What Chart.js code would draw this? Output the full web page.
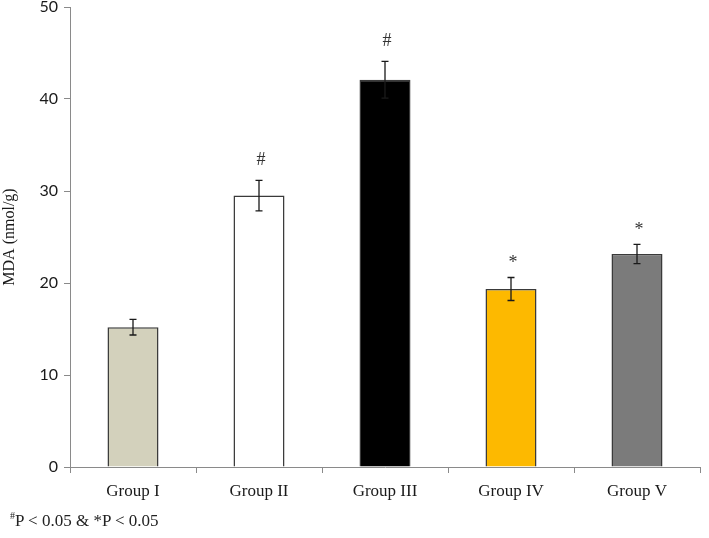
<!DOCTYPE html>
<html>
<head>
<meta charset="utf-8">
<script src="https://cdn.jsdelivr.net/npm/chart.js@4.4.1/dist/chart.umd.min.js"></script>
<style>
  html, body { margin: 0; padding: 0; background: #fff; }
  #wrap { position: relative; width: 709px; height: 538px; }
  #foot { position: absolute; left: 10px; top: 510px; font-family: "Liberation Serif", "Times New Roman", serif; font-size: 17px; color: #222; }
  #foot sup { font-size: 10px; }
</style>
</head>
<body>
<div id="wrap">
  <canvas id="c" width="709" height="538"></canvas>
  <div id="foot"><sup>#</sup>P &lt; 0.05 &amp; *P &lt; 0.05</div>
</div>
<script>
const categories = ["Group I", "Group II", "Group III", "Group IV", "Group V"];
const means = [15.2, 29.5, 42.1, 19.35, 23.15];
const errors = [0.85, 1.65, 2.0, 1.25, 1.05];
const markers = ["", "#", "#", "*", "*"];
const barColors = ["#d3d1bc", "#ffffff", "#000000", "#fdb900", "#7b7b7b"];
const yTicks = [0, 10, 20, 30, 40, 50];

const FONT = '"Liberation Serif", "Times New Roman", serif';
const SANS = 'Lato, "Open Sans", sans-serif';

const errorBarPlugin = {
  id: 'errorBars',
  afterDatasetsDraw(chart) {
    const ctx = chart.ctx;
    const y = chart.scales.y;
    const meta = chart.getDatasetMeta(0);
    ctx.save();
    meta.data.forEach((bar, i) => {
      const x = bar.x;
      const top = y.getPixelForValue(means[i] + errors[i]);
      const bot = y.getPixelForValue(means[i] - errors[i]);
      ctx.strokeStyle = '#1a1a1a';
      ctx.lineWidth = 1.3;
      ctx.beginPath();
      ctx.moveTo(x, top); ctx.lineTo(x, bot);
      ctx.moveTo(x - 3.5, top); ctx.lineTo(x + 3.5, top);
      ctx.moveTo(x - 3.5, bot); ctx.lineTo(x + 3.5, bot);
      ctx.stroke();
      if (markers[i]) {
        ctx.fillStyle = '#333';
        ctx.font = '18px ' + FONT;
        ctx.textAlign = 'center';
        ctx.textBaseline = 'middle';
        const off = markers[i] === '#' ? 20 : 14;
        ctx.fillText(markers[i], x + 2, top - off);
      }
    });
    ctx.restore();
  }
};

new Chart(document.getElementById('c'), {
  type: 'bar',
  data: {
    labels: categories,
    datasets: [{
      data: means,
      backgroundColor: barColors,
      borderColor: '#3a3a3a',
      borderWidth: 1.5,
      barPercentage: 0.405,
      categoryPercentage: 1.0
    }]
  },
  options: {
    responsive: false,
    animation: false,
    devicePixelRatio: 1,
    layout: { padding: { left: 0, right: 9, top: 7, bottom: 31 } },
    plugins: { legend: { display: false }, tooltip: { enabled: false } },
    scales: {
      x: {
        grid: { display: true, drawOnChartArea: false, drawTicks: true, tickLength: 6, color: '#8a8a8a', offset: true },
        border: { display: true, color: '#8a8a8a', width: 1 },
        ticks: { color: '#1a1a1a', font: { family: FONT, size: 17 }, padding: 8 },
        afterFit(scale) { scale.height = 40; scale.paddingLeft = 0; scale.paddingRight = 0; }
      },
      y: {
        min: 0, max: 50,
        afterBuildTicks(scale) { scale.ticks = yTicks.map(v => ({ value: v })); },
        grid: { display: true, drawOnChartArea: false, drawTicks: true, tickLength: 6, color: '#8a8a8a' },
        border: { display: true, color: '#8a8a8a', width: 1 },
        ticks: { color: '#1a1a1a', font: { family: SANS, size: 16 }, padding: 6 },
        title: { display: true, text: 'MDA (nmol/g)', color: '#1a1a1a', font: { family: FONT, size: 16 }, padding: { top: 0, bottom: 6 } },
        afterFit(scale) { scale.width = 70; scale.paddingTop = 0; scale.paddingBottom = 0; }
      }
    }
  },
  plugins: [errorBarPlugin]
});
</script>
</body>
</html>
